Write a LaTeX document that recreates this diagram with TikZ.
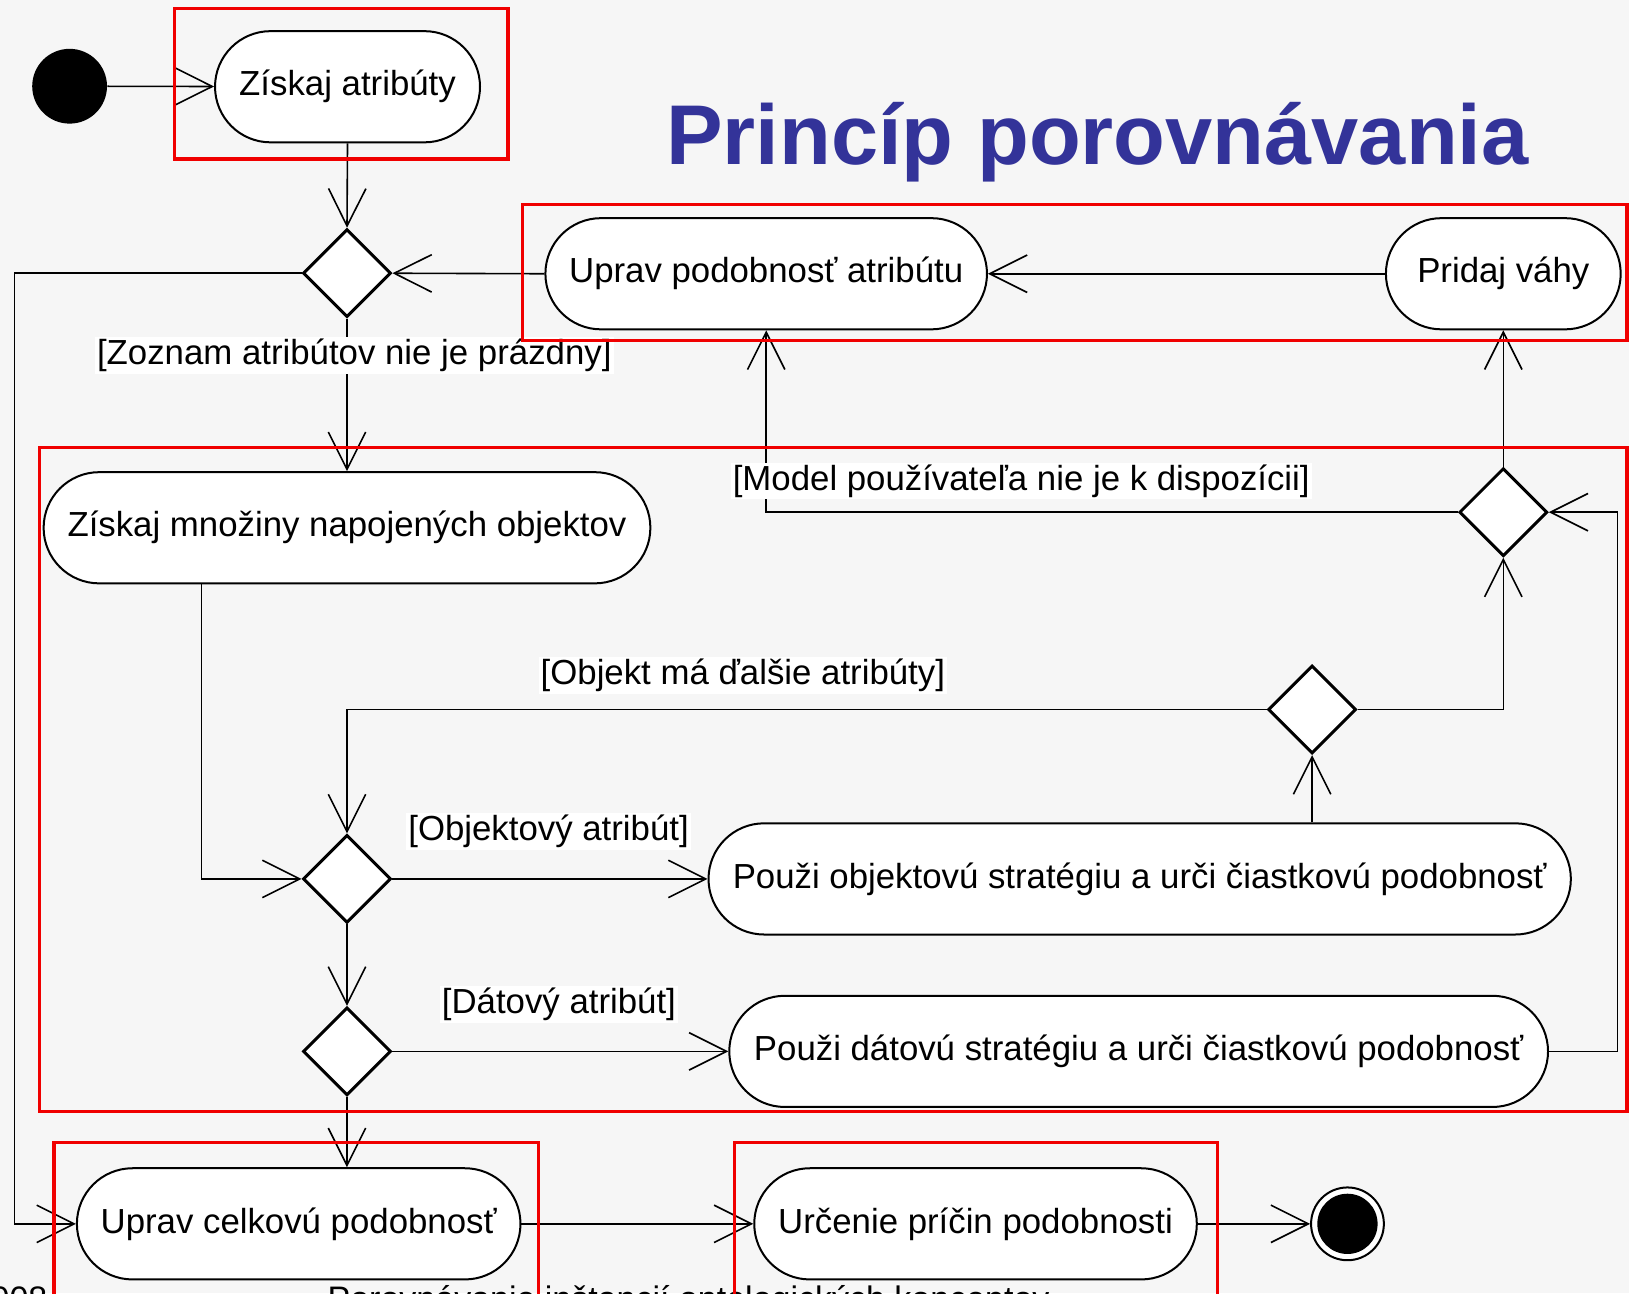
\documentclass[tikz,border=0pt]{standalone}
\usepackage{fontspec}
\setmainfont{Liberation Sans}
\usetikzlibrary{shapes.geometric,arrows.meta}
\definecolor{titleblue}{RGB}{51,51,153}
\definecolor{bgcol}{RGB}{246,246,246}
\definecolor{frame}{RGB}{240,0,0}
\tikzset{
  act/.style={draw=black, fill=white, line width=1pt, rounded corners=27.8pt,
    minimum height=55.6pt, inner sep=0pt, font=\fontsize{17.4pt}{20pt}\selectfont},
  dec/.style={draw=black, fill=white, line width=1.5pt, diamond, aspect=1,
    minimum width=44pt, minimum height=44pt, inner sep=0pt},
  arr/.style={line width=0.8pt, -{Straight Barb[length=18.7pt,width=18.7pt,line width=0.8pt]}},
  guard/.style={fill=white, inner sep=1pt, font=\fontsize{17.4pt}{20pt}\selectfont},
  redbox/.style={draw=frame, line width=1.6pt},
}
\begin{document}
\begin{tikzpicture}[x=0.5195pt,y=-0.5195pt]
\useasboundingbox (0,0) rectangle (1568,1245);
\clip (0,0) rectangle (1568,1245);
\fill[bgcol] (0,0) rectangle (1568,1245);

% title
\node[anchor=base west, inner sep=0pt, text=titleblue, font=\fontsize{42.4pt}{48pt}\selectfont\bfseries] (title) at (641,158) {Princíp porovnávania};

% footer (cut off)
\node[anchor=base east, inner sep=0pt, font=\fontsize{17pt}{20pt}\selectfont] (year) at (46,1261) {2008};
\node[anchor=base west, inner sep=0pt, font=\fontsize{17pt}{20pt}\selectfont] (foot) at (315,1261) {Porovnávanie inštancií ontologických konceptov};

% start / end
\node[circle, fill=black, minimum size=37.4pt, inner sep=0pt] (start) at (67,83) {};
\node[circle, draw=black, line width=1pt, fill=white, minimum size=36.4pt, inner sep=0pt] (end) at (1297,1178) {};
\fill[black] (end.center) circle (29);

% activities
\node[act, minimum width=132.5pt] (zisk) at (334.5,83.5) {Získaj atribúty};
\node[act, minimum width=220.8pt] (upravpod) at (737.5,263.5) {Uprav podobnosť atribútu};
\node[act, minimum width=117.4pt] (pridaj) at (1447,263.5) {Pridaj váhy};
\node[act, minimum width=303.4pt] (mnoziny) at (334,508) {Získaj množiny napojených objektov};
\node[act, minimum width=431.2pt] (objekt) at (1097,846) {Použi objektovú stratégiu a urči čiastkovú podobnosť};
\node[act, minimum width=409.4pt] (datova) at (1096,1012) {Použi dátovú stratégiu a urči čiastkovú podobnosť};
\node[act, minimum width=221.8pt] (upravcelk) at (287.5,1178) {Uprav celkovú podobnosť};
\node[act, minimum width=221.3pt] (urcenie) at (939,1178) {Určenie príčin podobnosti};

% decisions
\node[dec] (d1) at (334,263) {};
\node[dec] (d2) at (334,846) {};
\node[dec] (d3) at (1263,683) {};
\node[dec] (d4) at (1447,493) {};
\node[dec] (d5) at (334,1012) {};

% helper coordinates
\coordinate (cleft) at (14,263);
\coordinate (cbranch) at (194,0);
\coordinate (cright) at (1557,0);

% connectors
\draw[arr] (start) -- (zisk);
\draw[arr] (zisk.south) -- (d1.north);
\draw[arr] (pridaj.west) -- (upravpod.east);
\draw[arr] (upravpod.west) -- (d1.east);
\draw[arr] (d1.south) -- (mnoziny.north);
\draw[arr] (d1.west) -- (cleft) |- (upravcelk.west);
\draw[arr] (mnoziny.south -| cbranch) |- (d2.west);
\draw[arr] (d3.west) -| (d2.north);
\draw[arr] (d2.east) -- (objekt.west);
\draw[arr] (objekt.north -| d3) -- (d3.south);
\draw[arr] (d3.east) -| (d4.south);
\draw[arr] (d4.north) -- (pridaj.south);
\draw[arr] (d4.west) -| (upravpod.south);
\draw[arr] (d2.south) -- (d5.north);
\draw[arr] (d5.east) -- (datova.west);
\draw[arr] (datova.east) -- (datova.east -| cright) |- (d4.east);
\draw[arr] (d5.south) -- (d5.south |- upravcelk.north);
\draw[arr] (upravcelk.east) -- (urcenie.west);
\draw[arr] (urcenie.east) -- (end.west);

% guards
\node[guard] (g1) at (341,342) {[Zoznam atribútov nie je prázdny]};
\node[guard] (g2) at (983,463) {[Model používateľa nie je k dispozícii]};
\node[guard] (g3) at (715,650) {[Objekt má ďalšie atribúty]};
\node[guard] (g4) at (528,800) {[Objektový atribút]};
\node[guard] (g5) at (538,967) {[Dátový atribút]};

% red frames
\draw[redbox] (168,8) rectangle (489,153);
\draw[redbox] (503,197) rectangle (1566,328);
\draw[redbox] (38,431) rectangle (1566,1070);
\draw[redbox] (52,1100) rectangle (518,1260);
\draw[redbox] (707,1100) rectangle (1172,1260);
\end{tikzpicture}
\end{document}
